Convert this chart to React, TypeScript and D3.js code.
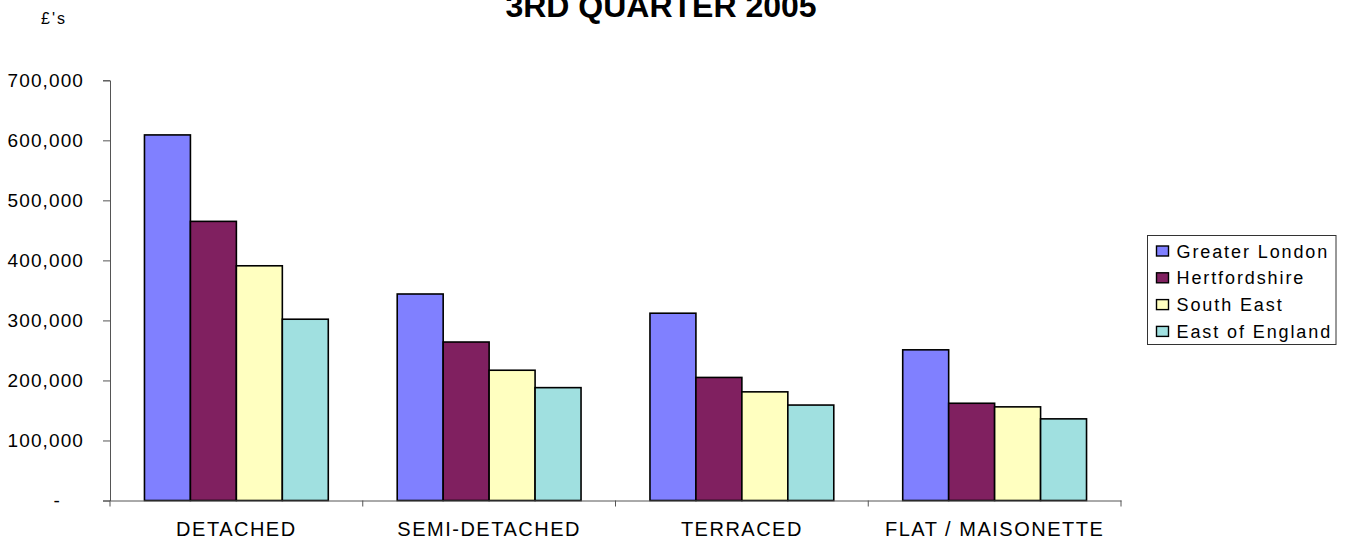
import { useEffect, useRef } from "react";
import * as d3 from "d3";

// chart data
const categories = ["DETACHED", "SEMI-DETACHED", "TERRACED", "FLAT / MAISONETTE"];
const seriesNames = ["Greater London", "Hertfordshire", "South East", "East of England"];
const seriesColors = ["#8080FF", "#802060", "#FFFFC0", "#A0E0E0"];
const greaterLondon = [609000, 344000, 312000, 251000];
const hertfordshire = [465000, 264000, 205000, 162000];
const southEast = [391000, 217000, 181000, 156000];
const eastOfEngland = [302000, 188000, 159000, 136000];
const yTicks = [0, 100000, 200000, 300000, 400000, 500000, 600000, 700000];

const seriesValues = [greaterLondon, hertfordshire, southEast, eastOfEngland];

const App = () => {
  const svgRef = useRef<SVGSVGElement | null>(null);

  useEffect(() => {
    if (!svgRef.current) return;
    const width = 1345;
    const height = 539;
    const font = "'Liberation Sans', Arial, sans-serif";

    const svg = d3.select(svgRef.current).attr("width", width).attr("height", height);
    svg.selectAll("*").remove();

    const left = 110;
    const right = 1121;
    const top = 80.3;
    const bottom = 500.5;

    // category bands (Excel gap width of 150%)
    const x0 = d3
      .scaleBand<string>()
      .domain(categories)
      .range([left, right])
      .paddingInner(1.5 / 5.5)
      .paddingOuter(0.75 / 5.5);

    const x1 = d3
      .scaleBand<string>()
      .domain(seriesNames)
      .range([0, x0.bandwidth()]);

    const y = d3.scaleLinear().domain([0, 700000]).range([bottom, top]);

    // title
    svg
      .append("text")
      .attr("x", 661)
      .attr("y", 17)
      .attr("text-anchor", "middle")
      .attr("font-family", font)
      .attr("font-size", 32)
      .attr("font-weight", "bold")
      .attr("fill", "#000")
      .text("3RD QUARTER 2005");

    // units label
    svg
      .append("text")
      .attr("x", 41)
      .attr("y", 24)
      .attr("font-family", font)
      .attr("font-size", 16)
      .attr("letter-spacing", 2)
      .attr("fill", "#000")
      .text("£'s");

    // bars
    const rows = categories.map((c, i) => ({
      category: c,
      values: seriesNames.map((s, j) => ({ series: s, value: seriesValues[j][i], color: seriesColors[j] })),
    }));

    const groups = svg
      .append("g")
      .selectAll("g")
      .data(rows)
      .enter()
      .append("g")
      .attr("transform", (d) => `translate(${x0(d.category)},0)`);

    groups
      .selectAll("rect")
      .data((d) => d.values)
      .enter()
      .append("rect")
      .attr("x", (d) => x1(d.series)!)
      .attr("y", (d) => y(d.value))
      .attr("width", x1.bandwidth())
      .attr("height", (d) => bottom - y(d.value))
      .attr("fill", (d) => d.color)
      .attr("stroke", "#000")
      .attr("stroke-width", 1.6);

    // y axis
    const yAxis = svg
      .append("g")
      .attr("transform", `translate(${left},0)`)
      .call(
        d3
          .axisLeft(y)
          .tickValues(yTicks)
          .tickSize(7)
          .tickPadding(19)
          .tickFormat((d: any) => (d === 0 ? "-" : d3.format(",")(d)))
      );
    yAxis.select(".domain").attr("stroke", "#555");
    yAxis.selectAll(".tick line").attr("stroke", "#555");
    yAxis
      .selectAll("text")
      .attr("font-family", font)
      .attr("font-size", 19)
      .attr("letter-spacing", 1.1)
      .attr("fill", "#000")
      .attr("dx", (d: any) => (d === 0 ? -23 : 0));

    // x axis
    const xAxis = svg
      .append("g")
      .attr("transform", `translate(0,${bottom})`)
      .call(d3.axisBottom(x0).tickSize(0).tickSizeOuter(0).tickPadding(0));
    xAxis.select(".domain").attr("stroke", "#555");
    xAxis
      .selectAll("text")
      .attr("font-family", font)
      .attr("font-size", 20)
      .attr("letter-spacing", 1.5)
      .attr("fill", "#000")
      .attr("dy", 0)
      .attr("y", 35);

    // category boundary ticks
    const boundaries = [...categories.map((c) => x0(c)! - x0.step() * (0.75 / 5.5)), right];
    xAxis
      .selectAll(".boundary")
      .data(boundaries)
      .enter()
      .append("line")
      .attr("class", "boundary")
      .attr("x1", (d) => d)
      .attr("x2", (d) => d)
      .attr("y1", 0)
      .attr("y2", 6)
      .attr("stroke", "#555");

    // legend
    const legend = svg.append("g").attr("transform", "translate(1147.5,235.5)");
    legend
      .append("rect")
      .attr("width", 188.5)
      .attr("height", 109)
      .attr("fill", "#fff")
      .attr("stroke", "#333")
      .attr("stroke-width", 1);

    const items = legend
      .selectAll(".item")
      .data(seriesNames)
      .enter()
      .append("g")
      .attr("class", "item")
      .attr("transform", (_, i) => `translate(0,${15.5 + i * 26.8})`);

    items
      .append("rect")
      .attr("x", 9)
      .attr("y", -5)
      .attr("width", 12)
      .attr("height", 10)
      .attr("fill", (_, i) => seriesColors[i])
      .attr("stroke", "#000")
      .attr("stroke-width", 1.4);

    items
      .append("text")
      .attr("x", 29)
      .attr("y", 6.5)
      .attr("font-family", font)
      .attr("font-size", 18)
      .attr("letter-spacing", 1.9)
      .attr("fill", "#000")
      .text((d) => d);
  }, []);

  return (
    <>
      <style>{`body{margin:0}`}</style>
      <svg ref={svgRef} style={{ display: "block" }}></svg>
    </>
  );
};

export default App;
